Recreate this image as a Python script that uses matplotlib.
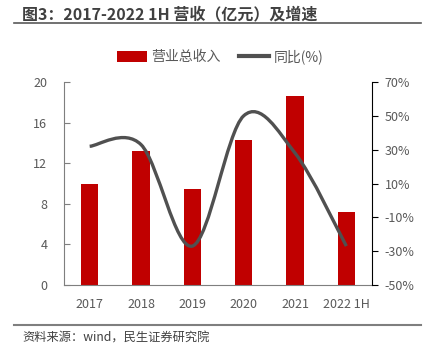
import numpy as np
import matplotlib
matplotlib.use("Agg")
import matplotlib.pyplot as plt
from matplotlib.path import Path
from matplotlib.patches import PathPatch
from matplotlib.lines import Line2D
from matplotlib.patches import Patch

plt.rcParams['font.family'] = ['Noto Sans CJK SC', 'DejaVu Sans']

# ---- data ----
categories = ['2017', '2018', '2019', '2020', '2021', '2022 1H']
revenue = [10.0, 13.2, 9.5, 14.3, 18.6, 7.2]       # 亿元
growth = [32, 33, -27, 50, 28, -27]                 # %

bar_color = '#C00000'
line_color = '#505050'
text_color = '#595959'

fig = plt.figure(figsize=(4.23, 3.55), dpi=100)
ax = fig.add_axes([64 / 423, 1 - 285 / 355, (372 - 64) / 423, (285 - 82) / 355])
ax2 = ax.twinx()

x = np.arange(len(categories))
ax.bar(x, revenue, width=0.34, color=bar_color, zorder=2)

# smoothed line (Catmull-Rom -> cubic Bezier, like Excel's smooth line)
pts = np.column_stack([x, growth]).astype(float)
ext = np.vstack([pts[0], pts, pts[-1]])
verts = [tuple(pts[0])]
codes = [Path.MOVETO]
for i in range(len(pts) - 1):
    p0, p1, p2, p3 = ext[i], ext[i + 1], ext[i + 2], ext[i + 3]
    c1 = p1 + (p2 - p0) / 6
    c2 = p2 - (p3 - p1) / 6
    verts += [tuple(c1), tuple(c2), tuple(p2)]
    codes += [Path.CURVE4] * 3
ax2.add_patch(PathPatch(Path(verts, codes), facecolor='none', edgecolor=line_color,
                        lw=2.4, capstyle='butt', zorder=3))

# axes
ax.set_xlim(-0.5, len(categories) - 0.5)
ax.set_ylim(0, 20)
ax.set_yticks([0, 4, 8, 12, 16, 20])
ax2.set_ylim(-50, 70)
ax2.set_yticks([-50, -30, -10, 10, 30, 50, 70])
ax2.set_yticklabels([f'{v}%' for v in range(-50, 71, 20)])
ax.set_xticks(x)
ax.set_xticklabels(categories)

for a in (ax, ax2):
    a.spines['top'].set_visible(False)
ax.spines['right'].set_visible(False)
ax.spines['left'].set_color('#7f7f7f')
ax.spines['bottom'].set_color('#7f7f7f')
ax2.spines['left'].set_visible(False)
ax2.spines['bottom'].set_visible(False)
ax2.spines['right'].set_color('#000000')

ax.tick_params(axis='y', direction='in', length=4, color='#7f7f7f', pad=12,
               labelsize=9, labelcolor=text_color)
ax.tick_params(axis='x', length=0, pad=9, labelsize=9, labelcolor=text_color)
ax2.tick_params(axis='y', direction='out', length=4, color='#000000', pad=5,
                labelsize=9, labelcolor=text_color)

# legend
handles = [Patch(facecolor=bar_color, edgecolor='none'),
           Line2D([0], [0], color=line_color, lw=3)]
fig.legend(handles, ['营业总收入', '同比(%)'], loc='center', bbox_to_anchor=(0.52, 1 - 57 / 355),
           ncol=2, frameon=False, fontsize=10, handlelength=2.2, handleheight=0.8,
           handletextpad=0.3, columnspacing=1.3, labelcolor=text_color)

# title, rules, source
fig.text(22 / 423, 1 - 14 / 355, '图3：2017-2022 1H 营收（亿元）及增速', ha='left', va='center',
         fontsize=11.5, fontweight='bold', color='#404040')
fig.add_artist(Line2D([14 / 423, 421 / 423], [1 - 22.5 / 355] * 2, color='#595959', lw=1.2))
fig.add_artist(Line2D([14 / 423, 421 / 423], [1 - 325 / 355] * 2, color='#7f7f7f', lw=1.5))
fig.text(22 / 423, 1 - 338 / 355, '资料来源：wind，民生证券研究院', ha='left', va='center',
         fontsize=8.8, color='#404040')

fig.savefig('out.png', dpi=100)
